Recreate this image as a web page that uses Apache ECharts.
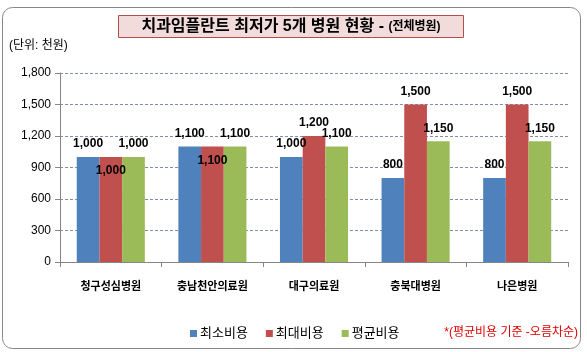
<!DOCTYPE html>
<html>
<head>
<meta charset="utf-8">
<script src="https://cdn.jsdelivr.net/npm/echarts@6/dist/echarts.min.js"></script>
<style>
  html, body { margin: 0; padding: 0; background: #fff; }
  #chart { width: 587px; height: 352px; }
</style>
</head>
<body>
<div id="chart"></div>
<script>
// 병원별 임플란트 비용 (단위: 천원)
const hospitals = ['청구성심병원', '충남천안의료원', '대구의료원', '충북대병원', '나은병원'];
const minCost = [1000, 1100, 1000, 800, 800];
const maxCost = [1000, 1100, 1200, 1500, 1500];
const avgCost = [1000, 1100, 1100, 1150, 1150];
const seriesNames = ['최소비용', '최대비용', '평균비용'];
const yTicks = [0, 300, 600, 900, 1200, 1500, 1800];

const FONT = "'Liberation Sans', 'Noto Sans CJK KR', sans-serif";
const colors = ['#4F81BD', '#C0504D', '#9BBB59'];

const chart = echarts.init(document.getElementById('chart'));

const comma = (v) => Number(v).toLocaleString('en-US');

const labelStyle = {
  show: true,
  position: 'top',
  distance: 7,
  color: '#000',
  fontFamily: FONT,
  fontSize: 12,
  fontWeight: 'bold',
  formatter: (p) => comma(p.value)
};

// 세 값이 모두 같으면 최대비용 라벨은 막대 안쪽으로
const maxData = maxCost.map((v, i) => {
  if (minCost[i] === v && avgCost[i] === v) {
    return { value: v, label: { position: 'insideTop', distance: 8 } };
  }
  return v;
});

const option = {
  animation: false,
  color: colors,
  graphic: [
    {
      type: 'rect',
      shape: { x: 2.5, y: 7.5, width: 578, height: 341, r: 10 },
      style: { fill: 'none', stroke: '#868686', lineWidth: 1 },
      silent: true
    },
    {
      type: 'rect',
      shape: { x: 118.5, y: 15.5, width: 345, height: 22 },
      style: { fill: '#F2DCDB', stroke: '#B0504D', lineWidth: 1 },
      silent: true
    },
    {
      type: 'text',
      x: 291,
      y: 27,
      style: {
        text: '{a|치과임플란트 최저가 5개 병원 현황 - }{b|(전체병원)}',
        align: 'center',
        verticalAlign: 'middle',
        rich: {
          a: { fontSize: 16, fontWeight: 'bold', fill: '#000', fontFamily: FONT },
          b: { fontSize: 12, fontWeight: 'bold', fill: '#000', fontFamily: FONT }
        }
      }
    },
    {
      type: 'text',
      x: 9,
      y: 46,
      style: {
        text: '(단위: 천원)',
        fontSize: 12,
        fill: '#000',
        fontFamily: FONT,
        verticalAlign: 'middle'
      }
    },
    {
      type: 'text',
      x: 578,
      y: 333,
      style: {
        text: '*(평균비용 기준 -오름차순)',
        fontSize: 12,
        fill: '#E00000',
        fontFamily: FONT,
        align: 'right',
        verticalAlign: 'middle'
      }
    }
  ],
  legend: {
    data: seriesNames,
    left: 185,
    top: 322,
    icon: 'rect',
    itemWidth: 7,
    itemHeight: 7,
    itemGap: 18,
    textStyle: { fontSize: 13, color: '#000', fontFamily: FONT, padding: [0, 0, 0, -2] }
  },
  grid: { left: 60, right: 19, top: 73, bottom: 90 },
  xAxis: {
    type: 'category',
    data: hospitals,
    axisLine: { lineStyle: { color: '#868686' } },
    axisTick: { show: true, length: 5, lineStyle: { color: '#868686' } },
    axisLabel: {
      margin: 19,
      color: '#000',
      fontSize: 11,
      fontWeight: 'bold',
      fontFamily: FONT
    }
  },
  yAxis: {
    type: 'value',
    min: yTicks[0],
    max: yTicks[yTicks.length - 1],
    interval: yTicks[1] - yTicks[0],
    axisLine: { show: true, lineStyle: { color: '#868686' } },
    axisTick: { show: true, length: 5, lineStyle: { color: '#868686' } },
    axisLabel: {
      margin: 9,
      color: '#000',
      fontSize: 12,
      fontFamily: FONT,
      formatter: (v) => comma(v)
    },
    splitLine: { lineStyle: { color: '#7F8FA6', type: [3, 2] } }
  },
  series: [
    { name: seriesNames[0], type: 'bar', data: minCost, barGap: '0%', barCategoryGap: '33%', label: labelStyle },
    { name: seriesNames[1], type: 'bar', data: maxData, barGap: '0%', barCategoryGap: '33%', label: labelStyle },
    { name: seriesNames[2], type: 'bar', data: avgCost, barGap: '0%', barCategoryGap: '33%', label: labelStyle }
  ]
};

chart.setOption(option);
</script>
</body>
</html>
